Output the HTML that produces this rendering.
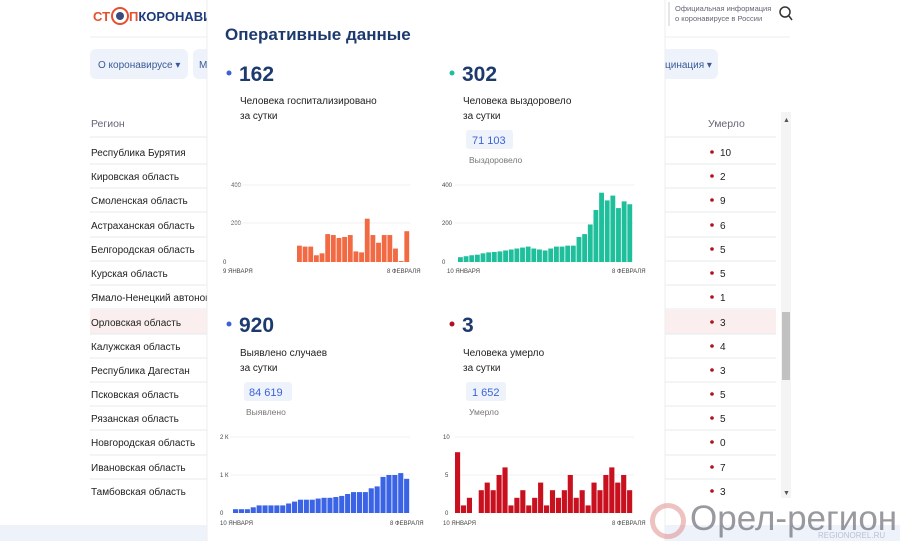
<!DOCTYPE html>
<html><head><meta charset="utf-8"><style>
body{margin:0;width:900px;height:541px;overflow:hidden;background:#fff;font-family:"Liberation Sans",sans-serif;position:relative}
.a{position:absolute;white-space:nowrap}
</style></head><body>
<svg width="900" height="541" style="position:absolute;left:0;top:0" font-family="Liberation Sans, sans-serif">
<rect x="0" y="525" width="900" height="16" fill="#eef3fb"/>
<line x1="90" y1="37" x2="790" y2="37" stroke="#e8ecf2"/>
<rect x="90" y="49" width="98" height="30" rx="6" fill="#eef2fb"/>
<text x="98" y="68" font-size="10" fill="#3a5a9a">О коронавирусе ▾</text>
<rect x="193" y="49" width="20" height="30" rx="6" fill="#eef2fb"/>
<text x="199" y="68" font-size="10" fill="#3a5a9a">М</text>
<rect x="655" y="49" width="63" height="30" rx="6" fill="#eef2fb"/>
<text x="665" y="68" font-size="10" fill="#3a5a9a">цинация ▾</text>
<text x="93" y="21" font-size="13" font-weight="bold" fill="#e5502e">СТ</text>
<circle cx="120" cy="16" r="8" fill="none" stroke="#e5502e" stroke-width="2"/>
<circle cx="120" cy="16" r="4" fill="#3a4a7a"/>
<text x="129" y="21" font-size="13" font-weight="bold" fill="#e5502e">П<tspan fill="#1d3a7a">КОРОНАВИ</tspan></text>
<line x1="669" y1="2" x2="669" y2="26" stroke="#ccc"/>
<text x="675" y="11" font-size="7.5" fill="#667">Официальная информация</text>
<text x="675" y="21" font-size="7.5" fill="#667">о коронавирусе в России</text>
<circle cx="785" cy="12" r="5" fill="none" stroke="#333" stroke-width="1.5"/>
<line x1="789" y1="16" x2="792" y2="20" stroke="#333" stroke-width="1.5"/>
<text x="91" y="127" font-size="10.5" fill="#667">Регион</text>
<text x="708" y="127" font-size="10.5" fill="#667">Умерло</text>
<rect x="90" y="310" width="686" height="24" fill="#fbeeee"/>
<g stroke="#e6e8ec">
<line x1="90" y1="137" x2="776" y2="137"/><line x1="90" y1="164" x2="776" y2="164"/><line x1="90" y1="188" x2="776" y2="188"/><line x1="90" y1="212" x2="776" y2="212"/><line x1="90" y1="237" x2="776" y2="237"/><line x1="90" y1="261" x2="776" y2="261"/><line x1="90" y1="285" x2="776" y2="285"/><line x1="90" y1="309" x2="776" y2="309"/><line x1="90" y1="334" x2="776" y2="334"/><line x1="90" y1="358" x2="776" y2="358"/><line x1="90" y1="382" x2="776" y2="382"/><line x1="90" y1="406" x2="776" y2="406"/><line x1="90" y1="430" x2="776" y2="430"/><line x1="90" y1="455" x2="776" y2="455"/><line x1="90" y1="479" x2="776" y2="479"/>
</g>
<g font-size="10" fill="#222">
<text x="91" y="156">Республика Бурятия</text><text x="91" y="180">Кировская область</text><text x="91" y="204">Смоленская область</text><text x="91" y="229">Астраханская область</text><text x="91" y="253">Белгородская область</text><text x="91" y="277">Курская область</text><text x="91" y="301">Ямало-Ненецкий автоном</text><text x="91" y="326">Орловская область</text><text x="91" y="350">Калужская область</text><text x="91" y="374">Республика Дагестан</text><text x="91" y="398">Псковская область</text><text x="91" y="422">Рязанская область</text><text x="91" y="446">Новгородская область</text><text x="91" y="471">Ивановская область</text><text x="91" y="495">Тамбовская область</text>
<text x="720" y="156">10</text><text x="720" y="180">2</text><text x="720" y="204">9</text><text x="720" y="229">6</text><text x="720" y="253">5</text><text x="720" y="277">5</text><text x="720" y="301">1</text><text x="720" y="326">3</text><text x="720" y="350">4</text><text x="720" y="374">3</text><text x="720" y="398">5</text><text x="720" y="422">5</text><text x="720" y="446">0</text><text x="720" y="471">7</text><text x="720" y="495">3</text>
</g>
<g fill="#b01020">
<circle cx="712" cy="152" r="1.8"/><circle cx="712" cy="176" r="1.8"/><circle cx="712" cy="200" r="1.8"/><circle cx="712" cy="225" r="1.8"/><circle cx="712" cy="249" r="1.8"/><circle cx="712" cy="273" r="1.8"/><circle cx="712" cy="297" r="1.8"/><circle cx="712" cy="322" r="1.8"/><circle cx="712" cy="346" r="1.8"/><circle cx="712" cy="370" r="1.8"/><circle cx="712" cy="394" r="1.8"/><circle cx="712" cy="418" r="1.8"/><circle cx="712" cy="442" r="1.8"/><circle cx="712" cy="467" r="1.8"/><circle cx="712" cy="491" r="1.8"/>
</g>
<rect x="781" y="112" width="10" height="386" fill="#f4f4f4"/>
<rect x="782" y="312" width="8" height="68" fill="#c1c1c1"/>
<text x="783" y="122" font-size="7" fill="#555">▲</text><text x="783" y="495" font-size="7" fill="#555">▼</text>

<rect x="207" y="0" width="458" height="541" fill="#fff"/>
<line x1="207" y1="0" x2="207" y2="541" stroke="#eee"/>
<line x1="665" y1="0" x2="665" y2="541" stroke="#eee"/>
<text x="225" y="40" font-size="17" font-weight="bold" fill="#1d3a6e">Оперативные данные</text>
<circle cx="229" cy="73" r="2.5" fill="#3b63d6"/><text x="239" y="81" font-size="21" font-weight="bold" fill="#1d3a6e">162</text>
<circle cx="452" cy="73" r="2.5" fill="#1fbf9b"/><text x="462" y="81" font-size="21" font-weight="bold" fill="#1d3a6e">302</text>
<circle cx="229" cy="324" r="2.5" fill="#3b63d6"/><text x="239" y="332" font-size="21" font-weight="bold" fill="#1d3a6e">920</text>
<circle cx="452" cy="324" r="2.5" fill="#b01020"/><text x="462" y="332" font-size="21" font-weight="bold" fill="#1d3a6e">3</text>
<g font-size="10" fill="#222">
<text x="240" y="104">Человека госпитализировано</text><text x="240" y="119">за сутки</text>
<text x="463" y="104">Человека выздоровело</text><text x="463" y="119">за сутки</text>
<text x="240" y="356">Выявлено случаев</text><text x="240" y="371">за сутки</text>
<text x="463" y="356">Человека умерло</text><text x="463" y="371">за сутки</text>
</g>
<rect x="466" y="130" width="47" height="19" rx="3" fill="#eef2fb"/><text x="472" y="144" font-size="11" fill="#3b63d6">71 103</text>
<text x="469" y="163" font-size="8.5" fill="#777">Выздоровело</text>
<rect x="244" y="382" width="48" height="19" rx="3" fill="#eef2fb"/><text x="249" y="396" font-size="11" fill="#3b63d6">84 619</text>
<text x="246" y="415" font-size="8.5" fill="#777">Выявлено</text>
<rect x="466" y="382" width="40" height="19" rx="3" fill="#eef2fb"/><text x="472" y="396" font-size="11" fill="#3b63d6">1 652</text>
<text x="469" y="415" font-size="8.5" fill="#777">Умерло</text>

<g font-size="6" fill="#444">
<text x="231" y="187">400</text><text x="231" y="225">200</text><text x="223" y="264">0</text>
<text x="223" y="273">9 ЯНВАРЯ</text><text x="387" y="273">8 ФЕВРАЛЯ</text>
<text x="442" y="187">400</text><text x="442" y="225">200</text><text x="442" y="264">0</text>
<text x="447" y="273">10 ЯНВАРЯ</text><text x="612" y="273">8 ФЕВРАЛЯ</text>
<text x="220" y="439">2 К</text><text x="220" y="477">1 К</text><text x="220" y="515">0</text>
<text x="220" y="525">10 ЯНВАРЯ</text><text x="390" y="525">8 ФЕВРАЛЯ</text>
<text x="443" y="439">10</text><text x="445" y="477">5</text><text x="445" y="515">0</text>
<text x="443" y="525">10 ЯНВАРЯ</text><text x="612" y="525">8 ФЕВРАЛЯ</text>
</g>
<g stroke="#f0f0f0"><line x1="230" y1="185" x2="410" y2="185"/><line x1="230" y1="223" x2="410" y2="223"/><line x1="455" y1="185" x2="634" y2="185"/><line x1="455" y1="223" x2="634" y2="223"/><line x1="230" y1="437" x2="410" y2="437"/><line x1="230" y1="475" x2="410" y2="475"/><line x1="455" y1="437" x2="634" y2="437"/><line x1="455" y1="475" x2="634" y2="475"/></g>
<g id="bars"></g>
</svg>
<div class="a" style="left:650px;top:503px;width:36px;height:36px;border-radius:50%;border:5px solid rgba(220,120,120,0.45);box-sizing:border-box"></div>
<div class="a" style="left:690px;top:499px;font-size:35px;color:rgba(110,110,120,0.7)">Орел-регион</div>
<div class="a" style="left:818px;top:531px;font-size:8px;color:rgba(150,160,180,0.6)">REGIONOREL.RU</div>
<script>
const g=document.getElementById('bars');
function draw(vals,x0,x1,base,scale,col){const w=(x1-x0)/vals.length;let s='';vals.forEach((v,i)=>{const h=v*scale;s+=`<rect x="${(x0+i*w).toFixed(2)}" y="${(base-h).toFixed(2)}" width="${(w-0.8).toFixed(2)}" height="${h.toFixed(2)}" fill="${col}"/>`});g.insertAdjacentHTML('beforeend',s);}
draw([85,80,80,35,45,145,140,125,130,140,55,50,225,140,100,140,140,70,5,160],297,410,262,77/400,'#f26a43');
draw([25,30,35,38,45,50,52,55,60,65,70,75,80,70,65,60,70,80,80,85,85,130,145,195,270,360,320,345,280,315,300],458,633,262,77/400,'#1fbf9b');
draw([.1,.1,.1,.15,.2,.2,.2,.2,.2,.25,.3,.35,.35,.35,.38,.4,.4,.42,.45,.5,.55,.55,.55,.65,.7,.95,1.0,1.0,1.05,.9],233,410,513,38,'#3b63e6');
draw([8,1,2,0,3,4,3,5,6,1,2,3,1,2,4,1,3,2,3,5,2,3,1,4,3,5,6,4,5,3],455,633,513,7.6,'#c8101e');
</script>
</body></html>
